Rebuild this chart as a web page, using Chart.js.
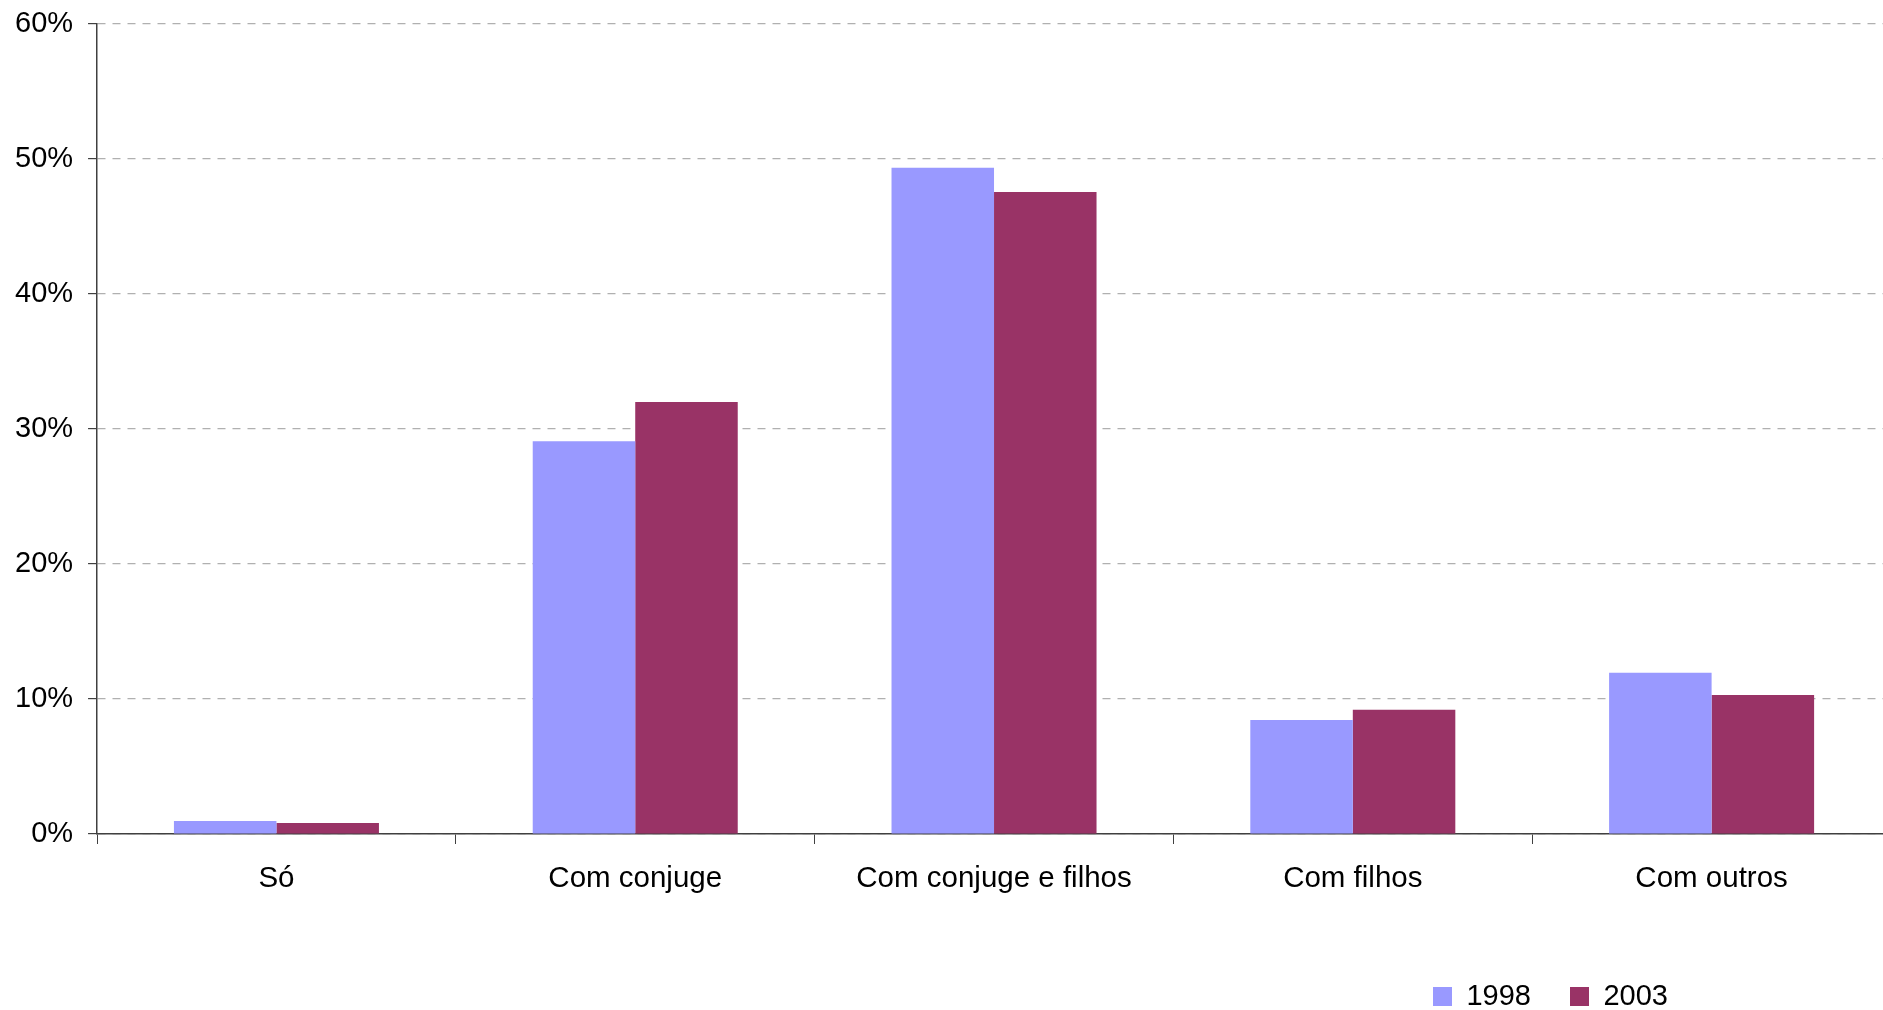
<!DOCTYPE html>
<html>
<head>
<meta charset="utf-8">
<script src="https://cdn.jsdelivr.net/npm/chart.js@4/dist/chart.umd.min.js"></script>
<style>
html,body{margin:0;padding:0;background:#fff;overflow:hidden;}
canvas{display:block;}
</style>
</head>
<body>
<canvas id="c" width="1892" height="1010"></canvas>
<script>
const categories = ["Só", "Com conjuge", "Com conjuge e filhos", "Com filhos", "Com outros"];
const seriesNames = ["1998", "2003"];
const values1998 = [0.97, 29.1, 49.35, 8.45, 11.95];
const values2003 = [0.82, 32.0, 47.55, 9.2, 10.3];
const yTicks = [0, 10, 20, 30, 40, 50, 60];

const FONT = "'Liberation Sans', Arial, sans-serif";

const legendPlacer = {
  id: 'legendPlacer',
  beforeDraw(chart) {
    const lg = chart.legend;
    if (!lg) return;
    const w = lg.right - lg.left;
    lg.right = 1707;
    lg.left = lg.right - w;
    const h = lg.bottom - lg.top;
    lg.top = 943;
    lg.bottom = lg.top + h;
  }
};

new Chart(document.getElementById('c'), {
  type: 'bar',
  data: {
    labels: categories,
    datasets: [
      { label: seriesNames[0], data: values1998, backgroundColor: '#9999FF', borderWidth: 0,
        categoryPercentage: 0.5714, barPercentage: 1.0 },
      { label: seriesNames[1], data: values2003, backgroundColor: '#993366', borderWidth: 0,
        categoryPercentage: 0.5714, barPercentage: 1.0 }
    ]
  },
  options: {
    responsive: false,
    animation: false,
    layout: { padding: { top: 24, left: 0, right: 1, bottom: 0 } },
    plugins: {
      legend: {
        position: 'bottom',
        align: 'end',
        labels: {
          boxWidth: 19, boxHeight: 19, padding: 39,
          color: '#000',
          font: { family: FONT, size: 29 }
        }
      },
      tooltip: { enabled: false }
    },
    scales: {
      x: {
        grid: { display: true, drawOnChartArea: false, drawTicks: true, tickLength: 10,
                tickColor: '#404040', offset: true },
        border: { display: true, color: '#404040', width: 1.5 },
        ticks: { color: '#000', font: { family: FONT, size: 29.5 }, padding: 17, maxRotation: 0 },
        afterFit(s) { s.height = 98; }
      },
      y: {
        min: 0, max: 60,
        afterBuildTicks(s) { s.ticks = yTicks.map(v => ({ value: v })); },
        afterFit(s) { s.paddingTop = 0; s.paddingBottom = 0; },
        grid: { color: '#b0b0b0', lineWidth: 1.2, drawTicks: true, tickLength: 9, tickColor: '#404040',
                tickBorderDash: [] },
        border: { display: true, color: '#404040', width: 1.5, dash: [8, 7] },
        ticks: { color: '#000', font: { family: FONT, size: 29 }, padding: 15,
                 callback: v => v + '%' }
      }
    }
  },
  plugins: [legendPlacer]
});
</script>
</body>
</html>
